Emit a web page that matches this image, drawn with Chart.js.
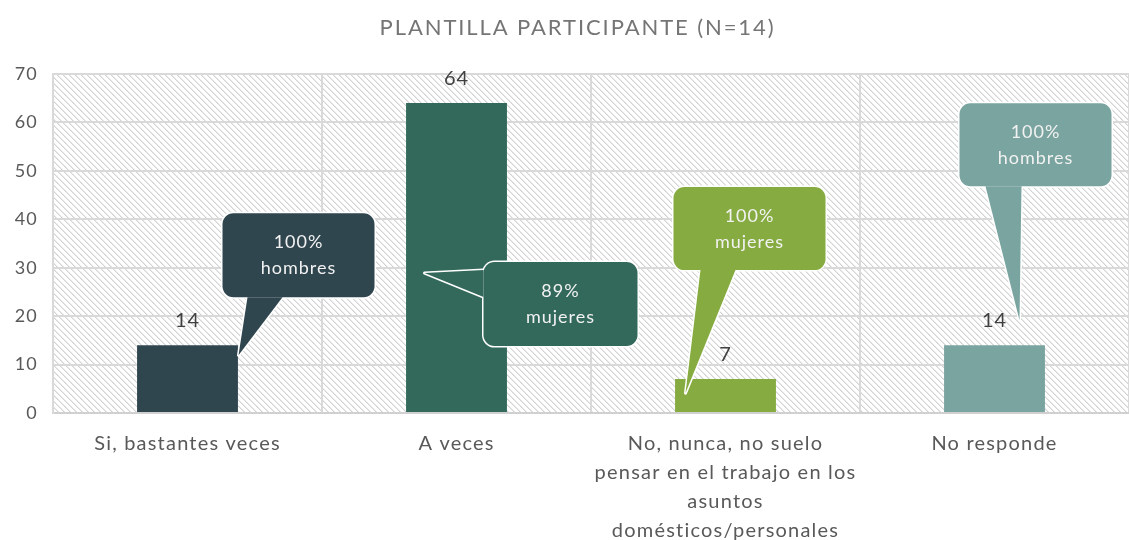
<!DOCTYPE html>
<html>
<head>
<meta charset="utf-8">
<script src="https://cdn.jsdelivr.net/npm/chart.js@4/dist/chart.umd.min.js"></script>
<style>
  html, body { margin: 0; padding: 0; background: #fff; }
  #wrap { width: 1129px; height: 540px; position: relative; }
</style>
</head>
<body>
<div id="wrap"><canvas id="chart"></canvas></div>
<script>
const titleText = 'PLANTILLA PARTICIPANTE (N=14)';
const categories = [
  'Si, bastantes veces',
  'A veces',
  ['No, nunca, no suelo', 'pensar en el trabajo en los', 'asuntos', 'domésticos/personales'],
  'No responde',
];
const values = [14, 64, 7, 14];
const barColors = ['#30464f', '#33695b', '#86ab41', '#7aa49f'];
const calloutTexts = [
  ['100%', 'hombres'],
  ['89%', 'mujeres'],
  ['100%', 'mujeres'],
  ['100%', 'hombres'],
];
const yMin = 0;
const yMax = 70;
const yStep = 10;

// callout geometry, in px relative to the top-centre of each bar
const calloutShapes = [
  { box: [35, -132, 152, 84], tail: [[60, -48], [95, -48], [51, 10]] },
  { box: [27, 159, 154, 84], tail: [[27, 167], [27, 194], [-32, 170]] },
  { box: [-52, -192, 152, 83], tail: [[-25, -109], [10, -109], [-40, 14]] },
  { box: [-35, -242, 152, 83], tail: [[-9, -159], [27, -159], [25, -25]] },
];

const FONT = 'Lato, "Open Sans", sans-serif';

function makeHatch(ctx) {
  const n = 6;
  const c = document.createElement('canvas');
  c.width = n;
  c.height = n;
  const g = c.getContext('2d');
  g.fillStyle = '#ffffff';
  g.fillRect(0, 0, n, n);
  for (let i = 0; i < n; i++) {
    g.fillStyle = '#d4d4d4';
    g.fillRect(i, i, 1, 1);
    g.fillStyle = '#e9e9e9';
    g.fillRect((i + 1) % n, i, 1, 1);
  }
  return ctx.createPattern(c, 'repeat');
}

const hatchPlugin = {
  id: 'hatch',
  beforeDraw(chart) {
    const { ctx, chartArea: a } = chart;
    ctx.save();
    ctx.fillStyle = '#ffffff';
    ctx.fillRect(0, 0, chart.width, chart.height);
    ctx.fillStyle = makeHatch(ctx);
    ctx.fillRect(a.left, a.top, a.right - a.left, a.bottom - a.top);
    ctx.restore();
    // wider tracking for the axis labels, closer to the original typeface
    ctx.letterSpacing = '1.2px';
  },
};

function roundRect(ctx, x, y, w, h, r) {
  ctx.beginPath();
  ctx.moveTo(x + r, y);
  ctx.arcTo(x + w, y, x + w, y + h, r);
  ctx.arcTo(x + w, y + h, x, y + h, r);
  ctx.arcTo(x, y + h, x, y, r);
  ctx.arcTo(x, y, x + w, y, r);
  ctx.closePath();
}

const labelsPlugin = {
  id: 'barLabels',
  afterDatasetsDraw(chart) {
    const { ctx } = chart;
    const meta = chart.getDatasetMeta(0);
    ctx.save();
    ctx.letterSpacing = '1px';
    ctx.font = '20px ' + FONT;
    ctx.fillStyle = '#404040';
    ctx.textAlign = 'center';
    ctx.textBaseline = 'middle';
    meta.data.forEach((bar, i) => {
      ctx.fillText(String(values[i]), bar.x, bar.y - 25);
    });

    // speech-bubble callouts
    meta.data.forEach((bar, i) => {
      const s = calloutShapes[i];
      const [bx, by, bw, bh] = s.box;
      const x = bar.x + bx;
      const y = bar.y + by;
      const tail = () => {
        ctx.beginPath();
        s.tail.forEach(([tx, ty], k) => {
          if (k === 0) ctx.moveTo(bar.x + tx, bar.y + ty);
          else ctx.lineTo(bar.x + tx, bar.y + ty);
        });
        ctx.closePath();
      };
      ctx.strokeStyle = '#ffffff';
      ctx.lineWidth = 3;
      ctx.lineJoin = 'round';
      roundRect(ctx, x, y, bw, bh, 11);
      ctx.stroke();
      tail();
      ctx.stroke();
      ctx.fillStyle = barColors[i];
      roundRect(ctx, x, y, bw, bh, 11);
      ctx.fill();
      tail();
      ctx.fill();

      ctx.fillStyle = '#f2f2f2';
      ctx.font = '18px ' + FONT;
      ctx.fillText(calloutTexts[i][0], x + bw / 2, y + 29);
      ctx.fillText(calloutTexts[i][1], x + bw / 2, y + 55);
    });
    ctx.restore();
  },
  afterDraw(chart) {
    const { ctx } = chart;
    ctx.save();
    ctx.letterSpacing = '1.9px';
    ctx.font = '22px ' + FONT;
    ctx.fillStyle = '#757575';
    ctx.textAlign = 'center';
    ctx.textBaseline = 'middle';
    ctx.fillText(titleText, chart.width / 2 + 13, 28);
    ctx.restore();
  },
};

new Chart(document.getElementById('chart'), {
  type: 'bar',
  data: {
    labels: categories,
    datasets: [
      {
        data: values,
        backgroundColor: barColors,
        borderWidth: 0,
        categoryPercentage: 1,
        barPercentage: 0.375,
      },
    ],
  },
  options: {
    responsive: true,
    maintainAspectRatio: false,
    animation: false,
    layout: { padding: { left: 0, right: 0, top: 74, bottom: 0 } },
    plugins: {
      legend: { display: false },
      tooltip: { enabled: false },
      title: { display: false },
    },
    scales: {
      x: {
        afterFit: (s) => { s.height = 127; },
        grid: { color: '#d9d9d9', lineWidth: 2, drawTicks: false, offset: true },
        border: { color: '#d0d0d0', width: 2 },
        ticks: {
          color: '#595959',
          font: { family: FONT, size: 20, lineHeight: 1.45 },
          padding: 16,
          maxRotation: 0,
          autoSkip: false,
        },
      },
      y: {
        min: yMin,
        max: yMax,
        afterFit: (s) => { s.width = 53; },
        grid: { color: '#d9d9d9', lineWidth: 2, drawTicks: false },
        border: { color: '#d9d9d9', width: 2 },
        ticks: {
          stepSize: yStep,
          color: '#595959',
          font: { family: FONT, size: 18 },
          padding: 15,
        },
      },
    },
  },
  plugins: [hatchPlugin, labelsPlugin],
});
</script>
</body>
</html>
